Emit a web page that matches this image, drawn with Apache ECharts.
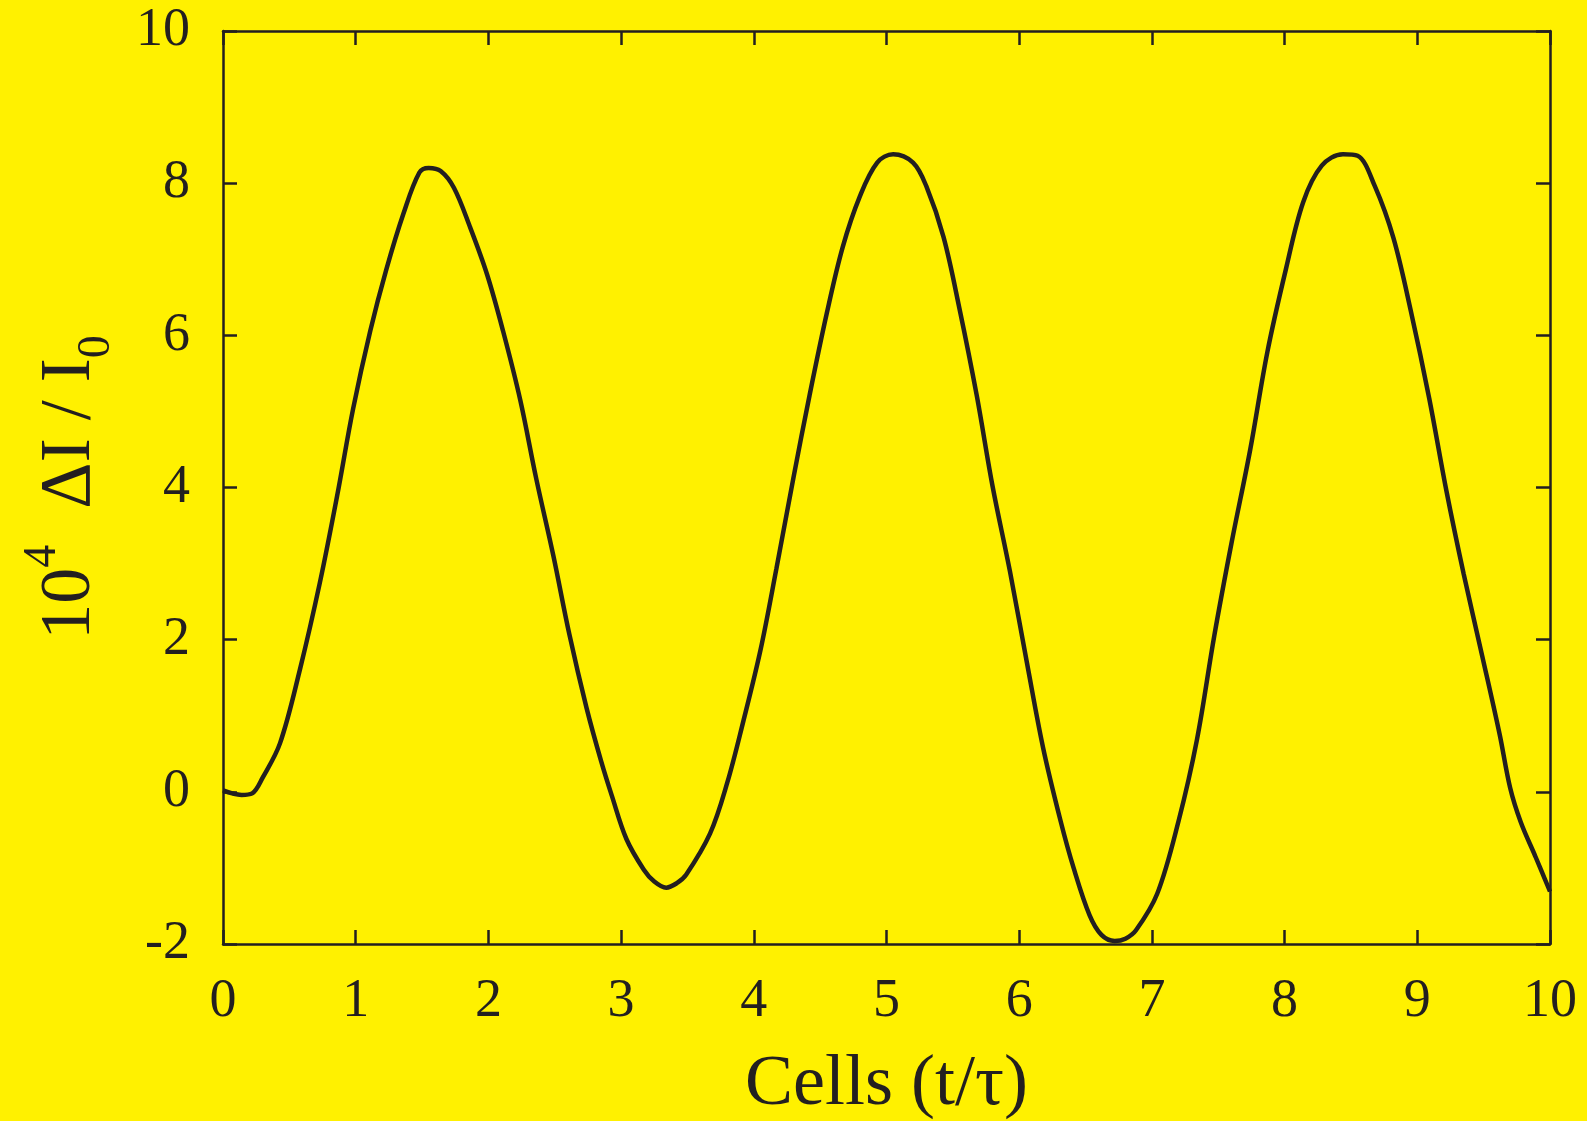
<!DOCTYPE html>
<html>
<head>
<meta charset="utf-8">
<script src="https://cdn.jsdelivr.net/npm/echarts@6/dist/echarts.min.js"></script>
<style>
html,body{margin:0;padding:0;background:#FFF100;}
#chart{width:1587px;height:1121px;}
</style>
</head>
<body>
<div id="chart"></div>
<script>
// Time in cells (t/tau)
const xs = [0.00,0.07,0.14,0.22,0.30,0.43,0.58,0.73,0.86,0.98,1.11,1.23,1.36,1.48,1.55,1.64,1.74,1.86,1.99,2.11,2.24,2.36,2.49,2.61,2.74,2.85,2.93,3.04,3.17,3.25,3.34,3.42,3.49,3.67,3.80,3.92,4.05,4.17,4.30,4.42,4.55,4.67,4.80,4.93,5.05,5.20,5.30,5.43,5.55,5.68,5.80,5.93,6.06,6.18,6.31,6.41,6.53,6.62,6.72,6.80,6.88,7.04,7.20,7.34,7.47,7.60,7.74,7.87,8.01,8.14,8.28,8.44,8.55,8.68,8.82,8.95,9.09,9.22,9.35,9.49,9.62,9.70,9.78,9.89,10.00];
// 10^4 ΔI / I0
const ys = [0.02,-0.02,-0.04,-0.02,0.19,0.64,1.61,2.75,3.89,5.03,6.06,6.86,7.60,8.14,8.20,8.16,7.94,7.43,6.80,6.06,5.15,4.12,3.10,2.07,1.10,0.40,-0.05,-0.62,-1.02,-1.18,-1.26,-1.20,-1.09,-0.55,0.12,0.92,1.86,2.93,4.14,5.21,6.29,7.16,7.83,8.27,8.38,8.27,7.96,7.29,6.35,5.21,4.01,2.90,1.68,0.58,-0.37,-1.00,-1.62,-1.88,-1.96,-1.93,-1.82,-1.34,-0.39,0.69,2.05,3.27,4.49,5.78,6.87,7.75,8.23,8.38,8.36,7.96,7.28,6.33,5.17,3.95,2.86,1.78,0.76,0.05,-0.40,-0.85,-1.31];
const xTicks = [0,1,2,3,4,5,6,7,8,9,10];
const yTicks = [-2,0,2,4,6,8,10];

const ink = '#231F20';
const serif = '"Liberation Serif", "DejaVu Serif", serif';
const chart = echarts.init(document.getElementById('chart'));
const pts = xs.map((x, i) => [x, ys[i]]);

const axisLineStyle = {show: true, onZero: false, lineStyle: {color: ink, width: 2.5}};
const tickStyle = {show: true, inside: true, length: 14, lineStyle: {color: ink, width: 2.5}};

chart.setOption({
  backgroundColor: '#FFF100',
  animation: false,
  grid: {left: 223, right: 37, top: 31, bottom: 177, containLabel: false, outerBoundsMode: 'none'},
  xAxis: [{
    type: 'value', min: xTicks[0], max: xTicks[xTicks.length - 1], interval: 1,
    position: 'bottom',
    axisLine: axisLineStyle, axisTick: tickStyle, splitLine: {show: false},
    axisLabel: {color: ink, fontFamily: serif, fontSize: 54, margin: 31},
    name: 'Cells (t/τ)', nameLocation: 'middle', nameGap: 105,
    nameTextStyle: {color: ink, fontFamily: serif, fontSize: 72}
  }, {
    type: 'value', min: xTicks[0], max: xTicks[xTicks.length - 1], interval: 1,
    position: 'top',
    axisLine: axisLineStyle, axisTick: tickStyle, splitLine: {show: false},
    axisLabel: {show: false}
  }],
  yAxis: [{
    type: 'value', min: yTicks[0], max: yTicks[yTicks.length - 1], interval: 2,
    position: 'left',
    axisLine: axisLineStyle, axisTick: tickStyle, splitLine: {show: false},
    axisLabel: {color: ink, fontFamily: serif, fontSize: 54, margin: 33},
    name: '{a|10}{sup|4}{a|  ΔI / I}{sub|0}', nameLocation: 'middle', nameGap: 103, nameRotate: 90,
    nameTextStyle: {
      color: ink, fontFamily: serif, fontSize: 72,
      rich: {
        a: {color: ink, fontFamily: serif, fontSize: 72, lineHeight: 100, verticalAlign: 'middle'},
        sup: {color: ink, fontFamily: serif, fontSize: 46, verticalAlign: 'top'},
        sub: {color: ink, fontFamily: serif, fontSize: 46, verticalAlign: 'bottom'}
      }
    }
  }, {
    type: 'value', min: yTicks[0], max: yTicks[yTicks.length - 1], interval: 2,
    position: 'right',
    axisLine: axisLineStyle, axisTick: tickStyle, splitLine: {show: false},
    axisLabel: {show: false}
  }],
  series: [{
    type: 'line', data: pts, smooth: 0.35, symbol: 'none', clip: true,
    lineStyle: {color: ink, width: 4.5}
  }]
});
</script>
</body>
</html>
